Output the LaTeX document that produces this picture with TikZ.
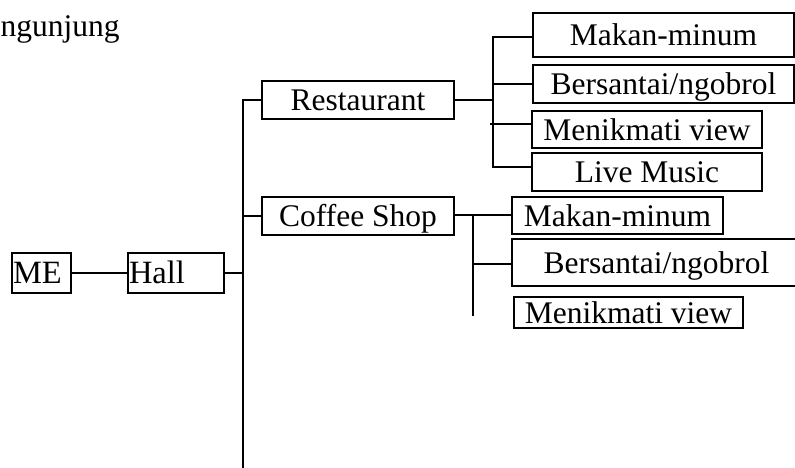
\documentclass[tikz,border=0pt]{standalone}
\usepackage{fontspec}
\setmainfont{Liberation Serif}
\usetikzlibrary{calc}
\begin{document}
\begin{tikzpicture}[x=1pt,y=-1pt,
  box/.style={draw=black, line width=1.6pt, inner sep=0pt,
    font=\fontsize{31.5}{36}\selectfont, text height=21pt, text depth=0pt},
  bigbox/.style={box, font=\fontsize{32.5}{38}\selectfont, text height=21.5pt},
  link/.style={draw=black, line width=1.6pt, line cap=rect}]
\useasboundingbox (0,0) rectangle (795,468);

% heading
\node[anchor=base west, inner sep=0pt, font=\fontsize{31.5}{36}\selectfont] (title) at (0.5,37) {ngunjung};

% root chain
\node[bigbox, minimum width=59, minimum height=40, text width=57, align=left] (me) at (41.5,273) {ME};
\node[bigbox, minimum width=96, minimum height=40, text width=94, align=left] (hall) at (176,273) {Hall};

% second level
\node[box, minimum width=192, minimum height=38] (rest) at (358,100) {Restaurant};
\node[box, minimum width=192, minimum height=38] (cafe) at (358,216) {Coffee Shop};

% restaurant activities
\node[box, minimum width=261, minimum height=44] (rmakan) at (663.5,35) {Makan-minum};
\node[box, minimum width=261, minimum height=38] (rsantai) at (663.5,84) {Bersantai/ngobrol};
\node[box, minimum width=230, minimum height=37] (rview) at (647,129.5) {Menikmati view};
\node[box, minimum width=230, minimum height=38] (rmusic) at (647,172) {Live Music};

% coffee shop activities
\node[box, minimum width=211, minimum height=37] (cmakan) at (617.5,215.5) {Makan-minum};
\node[box, minimum width=289, minimum height=47] (csantai) at (656.5,262.5) {Bersantai/ngobrol};
\node[box, minimum width=229, minimum height=31] (cview) at (628.5,312.5) {Menikmati view};

% junction points
\coordinate (trunk) at (243,273);
\coordinate (trunktop) at (243,100);
\coordinate (trunkend) at (243,470);
\coordinate (rj) at (493,100);
\coordinate (rjtop) at (493,37);
\coordinate (rjend) at (493,167);
\coordinate (cj) at (473,215);
\coordinate (cjend) at (473,315);

% connectors
\draw[link] (me.east) -- (hall.west);
\draw[link] (hall.east) -- (trunk);
\draw[link] (trunktop) -- (trunkend);
\draw[link] (trunktop) -- (rest.west);
\draw[link] (trunktop |- cafe.west) -- (cafe.west);

\draw[link] (rest.east) -- (rj);
\draw[link] (rjtop) -- (rjend);
\draw[link] (rjtop) -- (rjtop -| rmakan.west);
\draw[link] (rj |- rsantai.west) -- (rsantai.west);
\draw[link] ([xshift=-2pt]rj |- 0,124) -- (rview.west |- 0,124);
\draw[link] (rjend) -- (rjend -| rmusic.west);

\draw[link] (cafe.east |- cj) -- (cj -| cmakan.west);
\draw[link] (cj) -- (cjend);
\draw[link] (cj |- 0,264) -- (csantai.west |- 0,264);
\end{tikzpicture}
\end{document}
